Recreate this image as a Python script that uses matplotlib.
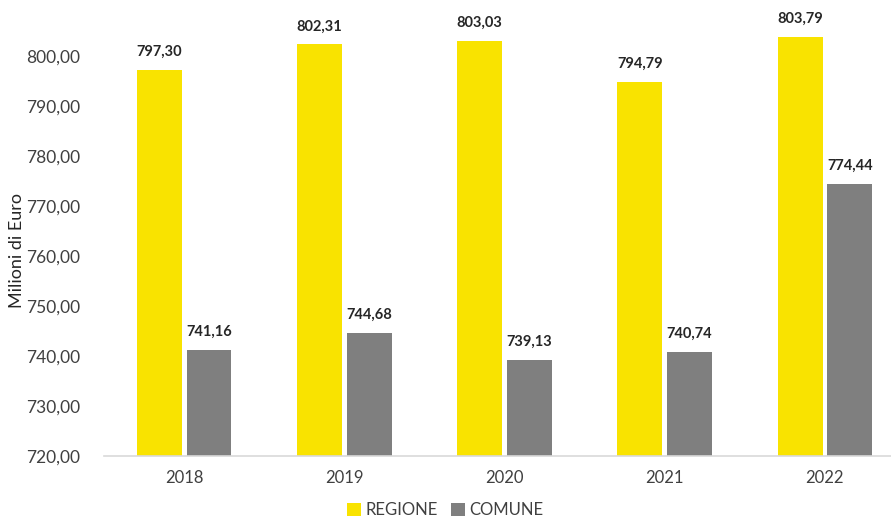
import numpy as np
import matplotlib.pyplot as plt
from matplotlib.ticker import FuncFormatter

# data
years = ["2018", "2019", "2020", "2021", "2022"]
regione = [797.30, 802.31, 803.03, 794.79, 803.79]
comune = [741.16, 744.68, 739.13, 740.74, 774.44]

plt.rcParams['font.family'] = ['Lato', 'DejaVu Sans']

fig = plt.figure(figsize=(8.91, 5.17), dpi=100)
ax = fig.add_axes([104 / 891, 61 / 517, 1 - 104 / 891, 450 / 517])

x = np.arange(len(years))
w = 0.28
off = 0.155
b1 = ax.bar(x - off, regione, w, color="#F9E300", label="REGIONE", zorder=2)
b2 = ax.bar(x + off, comune, w, color="#7F7F7F", label="COMUNE", zorder=2)


def it_fmt(v):
    return f"{v:.2f}".replace(".", ",")


for bars, vals in ((b1, regione), (b2, comune)):
    for r, v in zip(bars, vals):
        ax.annotate(it_fmt(v), (r.get_x() + r.get_width() / 2, v),
                    xytext=(0, 8), textcoords="offset points",
                    ha="center", va="bottom", fontsize=10.5, fontweight="bold",
                    color="#262626")

ax.set_ylim(720, 810)
ax.set_yticks(np.arange(720, 801, 10))
ax.yaxis.set_major_formatter(FuncFormatter(lambda v, p: it_fmt(v)))
ax.set_xlim(-0.5, 4.5 - 14 / 160)
ax.set_xticks(x)
ax.set_xticklabels(years)

for s in ("top", "right", "left"):
    ax.spines[s].set_visible(False)
ax.spines["bottom"].set_color("#D9D9D9")
ax.spines["bottom"].set_linewidth(1.2)
ax.tick_params(axis="y", length=0, pad=17, labelsize=12.5, labelcolor="#404040")
ax.tick_params(axis="x", length=0, pad=10, labelsize=12, labelcolor="#404040")

fig.text(17 / 891, 1 - 250 / 517, "Milioni di Euro", rotation=90,
         ha="center", va="center", fontsize=13, color="#262626")

fig.legend(loc="center", bbox_to_anchor=(0.5, 1 - 510 / 517), ncol=2,
           frameon=False, fontsize=12, handlelength=0.8, handleheight=0.8,
           columnspacing=0.8, handletextpad=0.3, labelcolor="#404040")

fig.savefig("out.png", dpi=100)
